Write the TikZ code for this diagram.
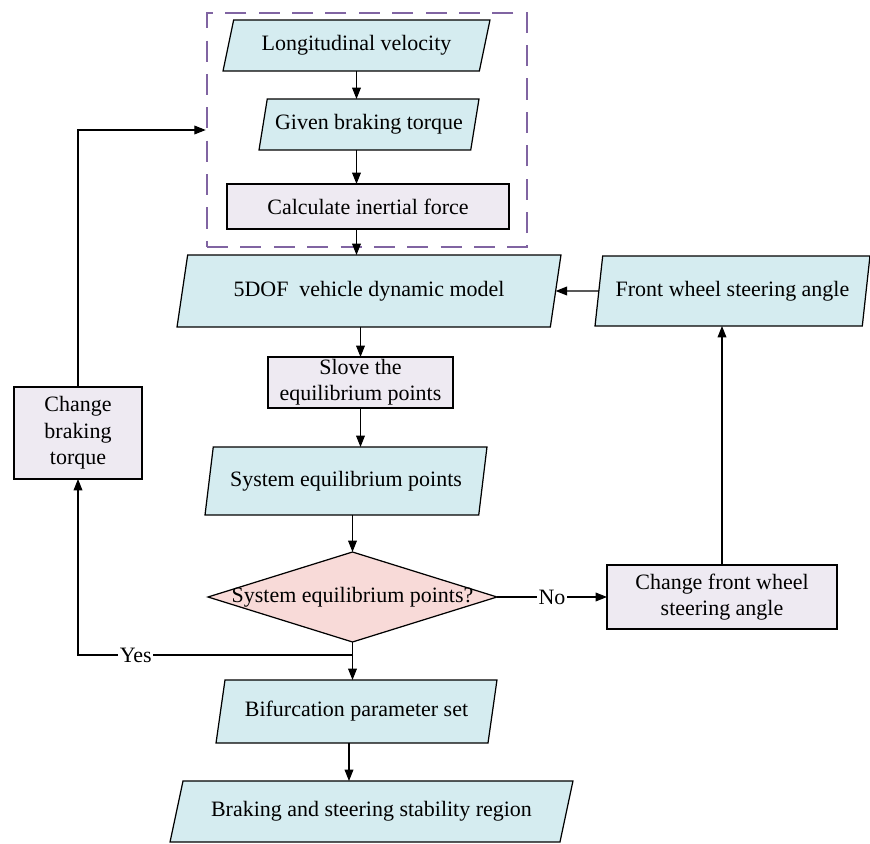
\documentclass[tikz,border=0pt]{standalone}
\usepackage{fontspec}
\setmainfont{Liberation Serif}
\usetikzlibrary{shapes.geometric,arrows.meta}

\definecolor{iocyan}{RGB}{213,236,240}
\definecolor{proclav}{RGB}{238,234,242}
\definecolor{decpink}{RGB}{248,218,216}
\definecolor{grouppurple}{RGB}{128,100,162}

% text that may run over the slanted sides
\newcommand{\tx}[1]{\makebox[0pt]{#1}}

\begin{document}
\begin{tikzpicture}[
      x=0.02cm, y=-0.02cm,
      >={Triangle[length=6.5pt,width=5pt]},
      font=\fontsize{12.5}{15}\selectfont,
      io/.style={trapezium, trapezium stretches body, draw, line width=0.7pt, fill=iocyan, inner sep=0pt, outer sep=0pt},
      box/.style={rectangle, draw, line width=0.7pt, fill=proclav, align=center, inner sep=0pt, outer sep=0pt},
      dec/.style={diamond, draw, line width=0.7pt, fill=decpink, inner sep=0pt, outer sep=0pt},
      group/.style={rectangle, draw=grouppurple, line width=1.5pt, dash pattern=on 12pt off 7pt},
      line/.style={line width=0.6pt}
    ]
      \useasboundingbox (0,0) rectangle (870,844);

      % Input Group
      \node[group, minimum width=6.4cm, minimum height=4.68cm] (input_group) at (367,130) {};

      \node[io, trapezium left angle=62, trapezium right angle=118, minimum width=5.34cm, minimum height=1.02cm] (long_vel) at (356.5,45.5) {\tx{Longitudinal velocity}};
      \node[io, trapezium left angle=67.6, trapezium right angle=112.4, minimum width=4.4cm, minimum height=1.02cm] (brake_torque) at (369,124.5) {\tx{Given braking torque}};
      \node[box, minimum width=5.64cm, minimum height=0.9cm] (inertia_force) at (368,206.5) {Calculate inertial force};

      \draw[->, line] (long_vel) -- (long_vel |- brake_torque.north);
      \draw[->, line] (long_vel |- brake_torque.south) -- (long_vel |- inertia_force.north);

      % Equilibrium Points
      \node[io, trapezium left angle=62, trapezium right angle=118, minimum width=7.68cm, minimum height=1.44cm] (dof_model) at (369,291) {\tx{5DOF~~vehicle dynamic model}};
      \node[box, minimum width=3.7cm, minimum height=1.02cm] (solve_eq) at (360.5,382.5) {Slove the\\equilibrium points};
      \node[io, trapezium left angle=67.6, trapezium right angle=112.4, minimum width=5.64cm, minimum height=1.36cm] (sys_eq) at (346,481) {\tx{System equilibrium points}};
      \node[dec, minimum width=5.78cm, minimum height=1.8cm] (check_eq) at (352.5,597) {\tx{System equilibrium points?}};

      \draw[->, line] (long_vel |- inertia_force.south) -- (long_vel |- dof_model.north);
      \draw[->, line] (solve_eq |- dof_model.south) -- (solve_eq);
      \draw[->, line] (solve_eq) -- (solve_eq |- sys_eq.north);
      \draw[->, line] (check_eq |- sys_eq.south) -- (check_eq);

      % Steering Loop
      \node[io, trapezium left angle=69, trapezium right angle=111, minimum width=5.5cm, minimum height=1.4cm] (front_angle) at (732.5,291) {\tx{Front wheel steering angle}};
      \node[box, minimum width=4.6cm, minimum height=1.28cm] (change_front) at (722,597) {Change front wheel\\steering angle};

      \draw[->, line] (check_eq) -- node[fill=white, inner sep=1pt] {No} (change_front);
      \draw[->, line] (change_front) -- (change_front |- front_angle.south);
      \draw[->, line] (front_angle) -- (dof_model);

      % Braking Loop
      \node[box, minimum width=2.56cm, minimum height=1.84cm] (change_brake) at (78,433) {Change\\braking\\torque};
      \coordinate (yes_turn) at (353,655);

      \draw[->, line] (yes_turn) -- node[pos=0.79, fill=white, inner sep=1pt] {Yes} (yes_turn -| change_brake) -- (change_brake);
      \draw[->, line] (change_brake) |- (input_group);

      % Output
      \node[io, trapezium left angle=66, trapezium right angle=114, minimum width=5.62cm, minimum height=1.26cm] (bif_set) at (356.5,711.5) {\tx{Bifurcation parameter set}};
      \node[io, trapezium left angle=57, trapezium right angle=123, minimum width=8.06cm, minimum height=1.22cm] (stab_region) at (371.5,811.5) {\tx{Braking and steering stability region}};
      \coordinate (out_link) at (349,750);

      \draw[->, line] (check_eq) -- (check_eq |- bif_set.north);
      \draw[->, line] (out_link |- bif_set.south) -- (out_link |- stab_region.north);
    \end{tikzpicture}
\end{document}
